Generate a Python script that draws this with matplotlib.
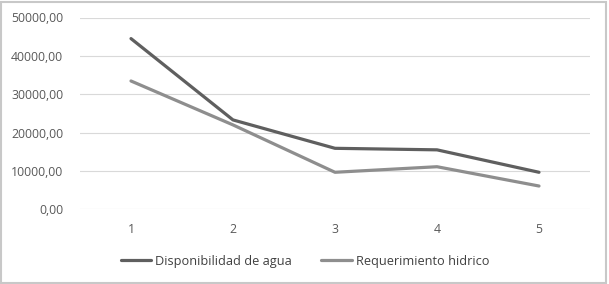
import matplotlib
matplotlib.use("Agg")
import matplotlib.pyplot as plt
from matplotlib.ticker import FuncFormatter
from matplotlib.patches import Rectangle

categories = [1, 2, 3, 4, 5]
disponibilidad = [44500, 23300, 15900, 15500, 9650]
requerimiento = [33450, 22000, 9650, 11100, 6070]
yticks = [0, 10000, 20000, 30000, 40000, 50000]

plt.rcParams['font.family'] = ['Open Sans', 'DejaVu Sans']

W, H = 609, 284
fig = plt.figure(figsize=(W / 100, H / 100), dpi=100)
ax = fig.add_axes([80 / W, 1 - 209.3 / H, 510 / W, (209.3 - 17.5) / H])

x = list(range(len(categories)))
ax.plot(x, disponibilidad, color='#5f5f5f', lw=2.3, label='Disponibilidad de agua', solid_capstyle='round')
ax.plot(x, requerimiento, color='#8e8e8e', lw=2.3, label='Requerimiento hidrico', solid_capstyle='round')

ax.set_xlim(-0.5, len(categories) - 0.5)
ax.set_ylim(0, 50000)
ax.set_yticks(yticks)
ax.yaxis.set_major_formatter(FuncFormatter(lambda v, p: f"{v:.2f}".replace('.', ',')))
ax.set_xticks(x)
ax.set_xticklabels([str(c) for c in categories])
ax.grid(axis='y', color='#d9d9d9', lw=0.8)
ax.set_axisbelow(True)
for s in ax.spines.values():
    s.set_visible(False)
ax.tick_params(length=0, colors='#595959', labelsize=8.8)
ax.tick_params(axis='y', pad=12)
ax.tick_params(axis='x', pad=10)

leg = fig.legend(loc='center', bbox_to_anchor=(305 / W, 1 - 261 / H), ncol=2, frameon=False,
                 fontsize=9.2, handlelength=2.4, columnspacing=2.3, handletextpad=0.3)
for t in leg.get_texts():
    t.set_color('#404040')

fig.patches.append(Rectangle((1 / W, 1 / H), (W - 4) / W, (H - 3) / H, transform=fig.transFigure,
                             fill=False, edgecolor='#c8c8c8', lw=1.5))
fig.savefig('out.png', dpi=100)
